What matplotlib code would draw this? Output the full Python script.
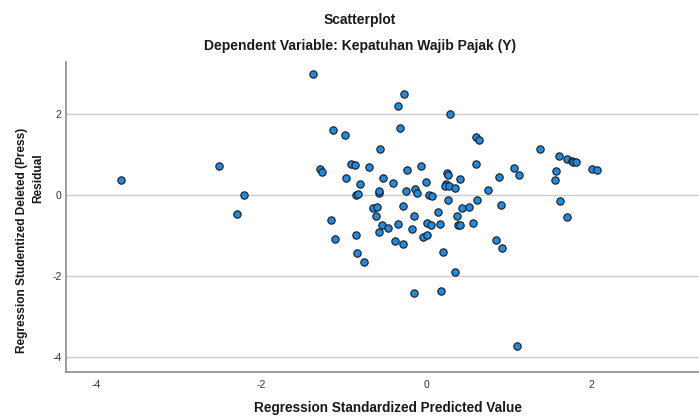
"""Residual scatterplot (SPSS style)."""

import matplotlib

matplotlib.use("Agg")
import matplotlib.pyplot as plt

plt.rcParams["font.family"] = ["Liberation Sans", "DejaVu Sans"]
plt.rcParams["axes.unicode_minus"] = False

# Regression standardized predicted value
pred = [
    -3.70, -2.51, -2.21, -2.29, -1.38, -0.27, -0.34, 0.29, -0.32, -1.13,
    -0.99, -0.56, 0.60, 0.63, -1.29, -1.27, -0.92, -0.87, -0.70, -0.07,
    -0.24, -0.98, -0.53, -0.80, -0.41, -0.01, 0.60, 0.25, 0.26, 0.40,
    0.24, 0.22, 0.27, 0.34, 0.74, -0.86, -0.83, -0.58, -0.57, -0.25,
    -0.14, -0.12, 0.03, 0.07, 0.26, 0.61, -0.65, -0.60, -0.28, 0.14,
    0.43, 0.51, 1.37, 1.60, 1.70, 1.76, 1.78, 1.81, 1.06, 2.01,
    2.06, 1.57, 0.88, 1.12, 1.55, 0.90, 1.62, 1.70, 0.84, 0.91,
    1.10, -1.16, -1.11, -0.86, -0.84, -0.76, -0.61, -0.15, -0.54, -0.47,
    -0.57, -0.35, -0.18, -0.38, -0.29, 0.00, 0.06, 0.16, -0.04, 0.01,
    0.37, 0.38, 0.41, 0.56, 0.20, 0.34, -0.15, 0.18,
]
# Regression studentized deleted (press) residual
resid = [
    0.36, 0.72, 0.01, -0.46, 2.99, 2.49, 2.20, 1.99, 1.66, 1.60,
    1.49, 1.14, 1.43, 1.36, 0.63, 0.57, 0.77, 0.75, 0.70, 0.72,
    0.61, 0.41, 0.43, 0.28, 0.30, 0.32, 0.77, 0.54, 0.49, 0.40,
    0.27, 0.22, 0.23, 0.17, 0.13, -0.01, 0.02, 0.05, 0.10, 0.10,
    0.15, 0.06, 0.00, -0.03, -0.13, -0.12, -0.31, -0.29, -0.26, -0.41,
    -0.32, -0.30, 1.14, 0.96, 0.88, 0.84, 0.82, 0.81, 0.66, 0.65,
    0.61, 0.60, 0.45, 0.49, 0.36, -0.25, -0.14, -0.54, -1.10, -1.31,
    -3.72, -0.61, -1.09, -0.98, -1.44, -1.65, -0.52, -0.53, -0.75, -0.81,
    -0.91, -0.72, -0.83, -1.14, -1.21, -0.68, -0.74, -0.72, -1.03, -0.99,
    -0.51, -0.73, -0.75, -0.70, -1.42, -1.90, -2.43, -2.37,
]
xticks = [-4, -2, 0, 2]
yticks = [-4, -2, 0, 2]

fig = plt.figure(figsize=(6.99, 4.17), dpi=100)
ax = fig.add_axes([0.094, 0.108, 0.906, 0.743])

for y in yticks:
    ax.axhline(y, color="#cccccc", linewidth=1.0, zorder=1)

ax.scatter(pred, resid, s=28, color="#1e8ae0", edgecolors="#1a1a1a",
           linewidths=0.8, zorder=3)

ax.set_xlim(-4.37, 3.3)
ax.set_ylim(-4.37, 3.28)
ax.set_xticks(xticks)
ax.set_yticks(yticks)
ax.tick_params(length=0, labelsize=7.5, colors="#333333")
ax.tick_params(axis="x", pad=6)
ax.tick_params(axis="y", pad=3)

for side in ("top", "right"):
    ax.spines[side].set_visible(False)
for side in ("left", "bottom"):
    ax.spines[side].set_color("#8c8c8c")
    ax.spines[side].set_linewidth(1.2)

fig.text(0.515, 0.952, "Scatterplot", ha="center", va="center",
         fontsize=10, fontweight="bold", color="#1a1a1a")
fig.text(0.515, 0.89, "Dependent Variable: Kepatuhan Wajib Pajak (Y)",
         ha="center", va="center", fontsize=10, fontweight="bold",
         color="#1a1a1a")
fig.text(0.555, 0.022, "Regression Standardized Predicted Value",
         ha="center", va="center", fontsize=9.8, fontweight="bold",
         color="#1a1a1a")
fig.text(0.031, 0.424, "Regression Studentized Deleted (Press)",
         ha="center", va="center", rotation=90, fontsize=8.6,
         fontweight="bold", color="#1a1a1a")
fig.text(0.055, 0.573, "Residual", ha="center", va="center", rotation=90,
         fontsize=8.6, fontweight="bold", color="#1a1a1a")

fig.savefig("out.png", dpi=100)
